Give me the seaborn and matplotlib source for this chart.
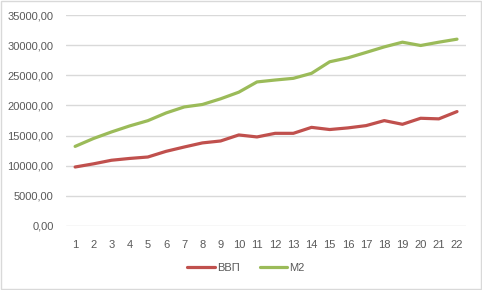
import pandas as pd
import matplotlib.pyplot as plt
import seaborn as sns
from matplotlib.patches import Rectangle
from matplotlib.ticker import FuncFormatter

# Values
periods = list(range(1, 23))
vvp = [9780, 10300, 10900, 11200, 11440, 12380, 13100, 13780, 14100, 15100, 14770,
       15370, 15370, 16360, 16000, 16270, 16650, 17480, 16870, 17870, 17770, 18980]
m2 = [13200, 14500, 15600, 16600, 17470, 18750, 19750, 20160, 21100, 22200, 23900,
      24220, 24500, 25330, 27250, 27900, 28800, 29720, 30500, 29950, 30500, 31000]
series_names = ['ВВП', 'M2']
colors = ['#C0504D', '#9BBB59']

df = pd.DataFrame({
    'period': periods * 2,
    'value': vvp + m2,
    'series': [series_names[0]] * len(vvp) + [series_names[1]] * len(m2),
})

sns.set_style('white')
plt.rcParams['font.family'] = ['Liberation Sans', 'DejaVu Sans']

fig = plt.figure(figsize=(4.82, 2.90), dpi=100)
ax = fig.add_axes([0.137, 0.221, 0.830, 0.727])

sns.lineplot(data=df, x='period', y='value', hue='series', hue_order=series_names,
             palette=colors, linewidth=2.3, ax=ax, legend=True)

ax.set_xlim(0.5, 22.5)
ax.set_ylim(0, 35000)
ax.set_yticks(range(0, 35001, 5000))
ax.set_xticks(periods)
ax.yaxis.set_major_formatter(FuncFormatter(lambda v, p: f'{v:.2f}'.replace('.', ',')))
ax.grid(axis='y', color='#D9D9D9', linewidth=1)
ax.set_axisbelow(True)
for s in ax.spines.values():
    s.set_visible(False)
ax.tick_params(axis='both', length=0, labelsize=8, labelcolor='#595959')
ax.tick_params(axis='x', pad=10)
ax.tick_params(axis='y', pad=9)
ax.set_xlabel('')
ax.set_ylabel('')

ax.legend(loc='center', bbox_to_anchor=(0.51, 0.075), bbox_transform=fig.transFigure,
          ncol=2, frameon=False, fontsize=8, handlelength=2.5, columnspacing=1.8,
          handletextpad=0.2, labelcolor='#595959')

fig.patches.append(Rectangle((0.002, 0.003), 0.995, 0.993, transform=fig.transFigure,
                             fill=False, edgecolor='#D9D9D9', linewidth=1))

plt.savefig('out.png', dpi=100)
plt.close()
